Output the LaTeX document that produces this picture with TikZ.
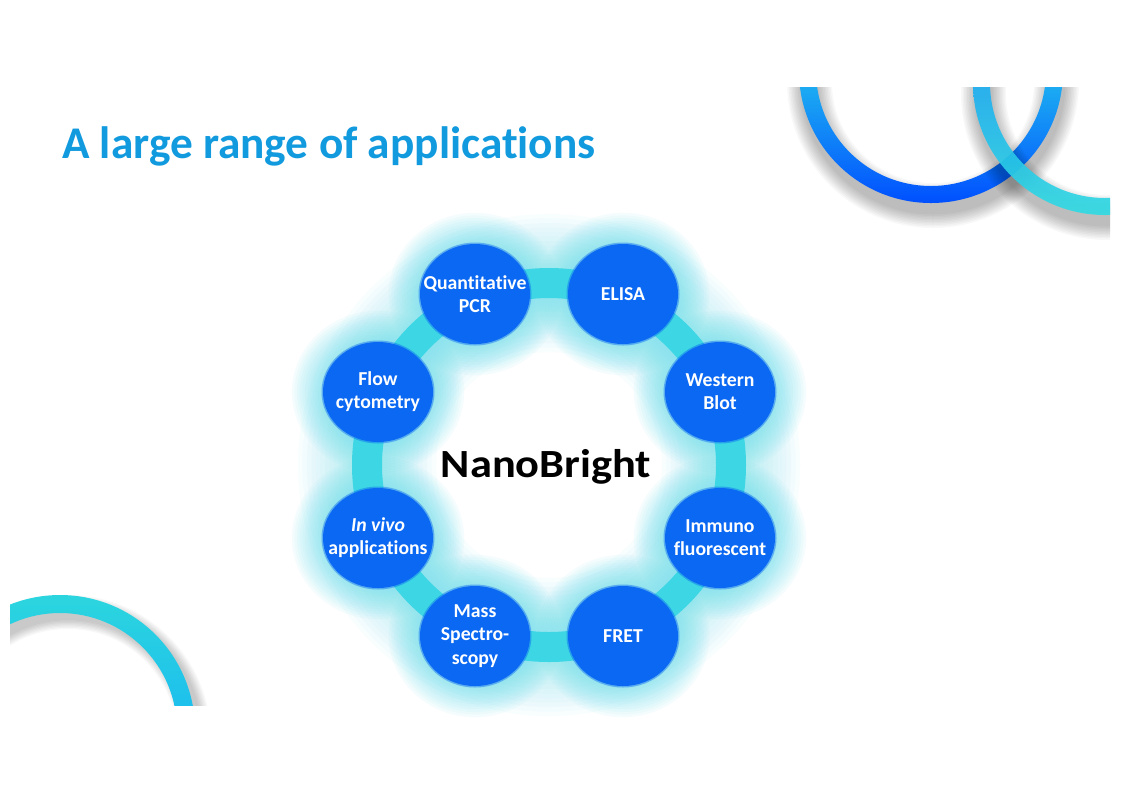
\documentclass[tikz,border=0pt]{standalone}
\usepackage{fontspec}
\setmainfont{Carlito}[Ligatures=NoCommon]
\definecolor{titleblue}{RGB}{18,154,222}
\definecolor{discblue}{RGB}{10,104,242}
\definecolor{bandcyan}{RGB}{60,214,228}
\definecolor{glowcyan}{RGB}{110,224,238}
\definecolor{ringtopblue}{RGB}{28,172,242}
\definecolor{ringbotblue}{RGB}{0,78,255}
\definecolor{cyantop}{RGB}{30,174,240}
\definecolor{cyanbot}{RGB}{50,220,226}
\definecolor{blcyan}{RGB}{44,214,222}
\definecolor{blblue}{RGB}{30,192,236}
\tikzset{
  disctext/.style={inner sep=0pt, text=white, align=center,
    font=\bfseries\fontsize{14.8}{17.4}\selectfont},
  shadowstroke/.style={black, opacity=0.028},
}
\begin{document}
\begin{tikzpicture}[x=0.75pt,y=-0.75pt]
\useasboundingbox (0,0) rectangle (1123,794);
\fill[white] (0,0) rectangle (1123,794);

% ---------- decorative rings, clipped to the slide ----------
\begin{scope}
\clip (10,87) rectangle (1110,705);
% blue ring (top right): shadow then ring
\foreach \k in {1,...,10}
  \draw[shadowstroke, line width={(15+3*\k)*0.75pt}] (933,82) circle (123.5);
\begin{scope}[even odd rule]
\clip (931,71) circle (132) (931,71) circle (115);
\shade[top color=ringtopblue, bottom color=ringbotblue] (795,85) rectangle (1070,205);
\end{scope}
% cyan ring (top right)
\foreach \k in {1,...,10}
  \draw[shadowstroke, line width={(15+3*\k)*0.75pt}] (1107,94) circle (123.5);
\begin{scope}[even odd rule]
\clip (1105,83) circle (132) (1105,83) circle (115);
\shade[top color=cyantop, bottom color=cyanbot, opacity=0.92] (965,85) rectangle (1112,217);
\end{scope}
% bottom-left ring
\foreach \k in {1,...,8}
  \draw[shadowstroke, line width={(14+2.5*\k)*0.75pt}] (68,738) circle (126);
\begin{scope}[even odd rule]
\clip (60,730) circle (135) (60,730) circle (117);
\shade[top color=blcyan, bottom color=blblue] (5,592) rectangle (200,707);
\end{scope}
\end{scope}

% ---------- title ----------
\node[anchor=base west, inner sep=0pt, text=titleblue,
      font=\bfseries\fontsize{34}{40}\selectfont] (title) at (62,158) {A large range of applications};

% ---------- glow ----------
\foreach \k in {1,...,12}
  \draw[glowcyan, opacity=0.045, line width={(30+9*\k)*0.75pt}] (549,465) circle (182);
\foreach \p in {(475,294),(623,294),(720,392),(720,538),(623,636),(475,636),(378,538),(378,392)}
  \foreach \k in {1,...,12}
    \fill[glowcyan, opacity=0.065] \p ellipse ({55+2.6*\k} and {50+2.6*\k});

% ---------- band ----------
\draw[bandcyan, line width=22.5pt] (549,465) circle (182);

% ---------- discs ----------
\foreach \p in {(475,294),(623,294),(720,392),(720,538),(623,636),(475,636),(378,538),(378,392)}{
  \fill[discblue, opacity=0.45] \p ellipse (56.5 and 51.5);
  \fill[discblue] \p ellipse (55 and 50);
}
\node[disctext] (qpcr)   at (475,294) {Quantitative\\PCR};
\node[disctext] (elisa)  at (623,294) {ELISA};
\node[disctext] (wb)     at (720,392) {Western\\Blot};
\node[disctext] (immuno) at (720,538) {Immuno\\fluorescent};
\node[disctext] (fret)   at (623,636) {FRET};
\node[disctext] (mass)   at (475,636) {Mass\\Spectro-\\scopy};
\node[disctext] (invivo) at (378,538) {\textit{In vivo}\\applications};
\node[disctext] (flow)   at (378,392) {Flow\\cytometry};

% ---------- centre ----------
\node[anchor=base, inner sep=0pt, xscale=1.11, font=\bfseries\fontsize{30}{36}\selectfont] (nb) at (546,477) {NanoBright};
\end{tikzpicture}
\end{document}
